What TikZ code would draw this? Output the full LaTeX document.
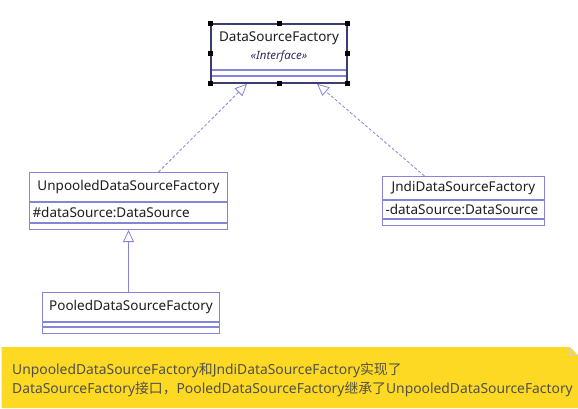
\documentclass[tikz,border=0pt]{standalone}
\usepackage{fontspec}
\setmainfont{Noto Sans}
\newfontfamily\cjk{Noto Sans CJK SC}
\usetikzlibrary{arrows.meta,positioning,fit}
\definecolor{umlB}{HTML}{8484D8}
\definecolor{selB}{HTML}{3C3C6E}
\definecolor{txtK}{HTML}{1E1E1E}
\definecolor{steK}{HTML}{2E2E5E}
\definecolor{noteY}{HTML}{FDD923}
\definecolor{noteT}{HTML}{50504A}
\definecolor{noteE}{HTML}{D0D0D0}
\tikzset{
  cname/.style={draw=umlB, line width=1pt, fill=white, inner sep=0pt, anchor=north west,
    text=txtK, font=\fontsize{13.5}{16}\selectfont},
  cattr/.style={cname, inner xsep=3pt, align=left},
  cops/.style={draw=umlB, line width=1pt, fill=white, inner sep=0pt, anchor=north west},
  realarr/.style={umlB, line width=0.8pt, dash pattern=on 3pt off 2pt,
    -{Triangle[open, fill=white, length=12pt, width=11pt]}},
  inharr/.style={umlB, line width=0.8pt, -{Triangle[open, fill=white, length=12pt, width=11pt]}},
  handle/.style={fill=black, inner sep=0pt, minimum size=5pt},
  notetxt/.style={text=noteT, font=\fontsize{13.85}{19}\selectfont, align=left, inner sep=0pt},
}

\begin{document}
\begin{tikzpicture}[x=1pt,y=-1pt]
\useasboundingbox (0,0) rectangle (578,408);

% ===================== interface =====================
\node[cname, minimum width=135pt, minimum height=45pt, align=center] (dsfName) at (211,24)
  {DataSourceFactory\\[2pt]{\fontsize{11.5}{12}\selectfont\itshape\color{steK}«Interface»}};
\node[cops, minimum width=135pt, minimum height=5pt] (dsfAttr) at (dsfName.south west) {};
\node[cops, minimum width=135pt, minimum height=6pt] (dsfOps) at (dsfAttr.south west) {};
\node[fit=(dsfName)(dsfOps), inner sep=0pt, draw=selB, line width=1.6pt] (dsf) {};
\foreach \a in {north west,north,north east,west,east,south west,south,south east}
  \node[handle] at (dsf.\a) {};

% ===================== implementations =====================
\node[cname, minimum width=198pt, minimum height=29pt] (unpName) at (29,172) {UnpooledDataSourceFactory};
\node[cattr, text width=192pt, minimum height=20pt] (unpAttr) at (unpName.south west) {\#dataSource:DataSource};
\node[cops, minimum width=198pt, minimum height=6pt] (unpOps) at (unpAttr.south west) {};

\node[cname, minimum width=162pt, minimum height=23pt] (jndiName) at (382,176) {JndiDataSourceFactory};
\node[cattr, text width=156pt, minimum height=18pt] (jndiAttr) at (jndiName.south west) {-dataSource:DataSource};
\node[cops, minimum width=162pt, minimum height=6pt] (jndiOps) at (jndiAttr.south west) {};

% ===================== subclass =====================
\node[cname, minimum width=177pt, minimum height=29pt] (poolName) at (42,292) {PooledDataSourceFactory};
\node[cops, minimum width=177pt, minimum height=4pt] (poolAttr) at (poolName.south west) {};
\node[cops, minimum width=177pt, minimum height=6pt] (poolOps) at (poolAttr.south west) {};

% connectors
\draw[realarr] ([xshift=30pt]unpName.north) -- ([xshift=-32pt]dsf.south);
\draw[realarr] ([xshift=-39pt]jndiName.north) -- ([xshift=38pt]dsf.south);
\draw[inharr] (poolName.north -| unpOps.south) -- (unpOps.south);

% ===================== note =====================
\fill[noteY] (1.5,347) -- (570,347) -- (578,355) -- (578,408) -- (1.5,408) -- cycle;
\draw[noteE, line width=0.8pt] (570,347) -- (570,355) -- (578,355);
\node[notetxt, anchor=west] (note) at (12,379.5)
  {UnpooledDataSourceFactory{\cjk 和}JndiDataSourceFactory{\cjk 实现了}\\
   DataSourceFactory{\cjk 接口，}PooledDataSourceFactory{\cjk 继承了}UnpooledDataSourceFactory};

\end{tikzpicture}
\end{document}
